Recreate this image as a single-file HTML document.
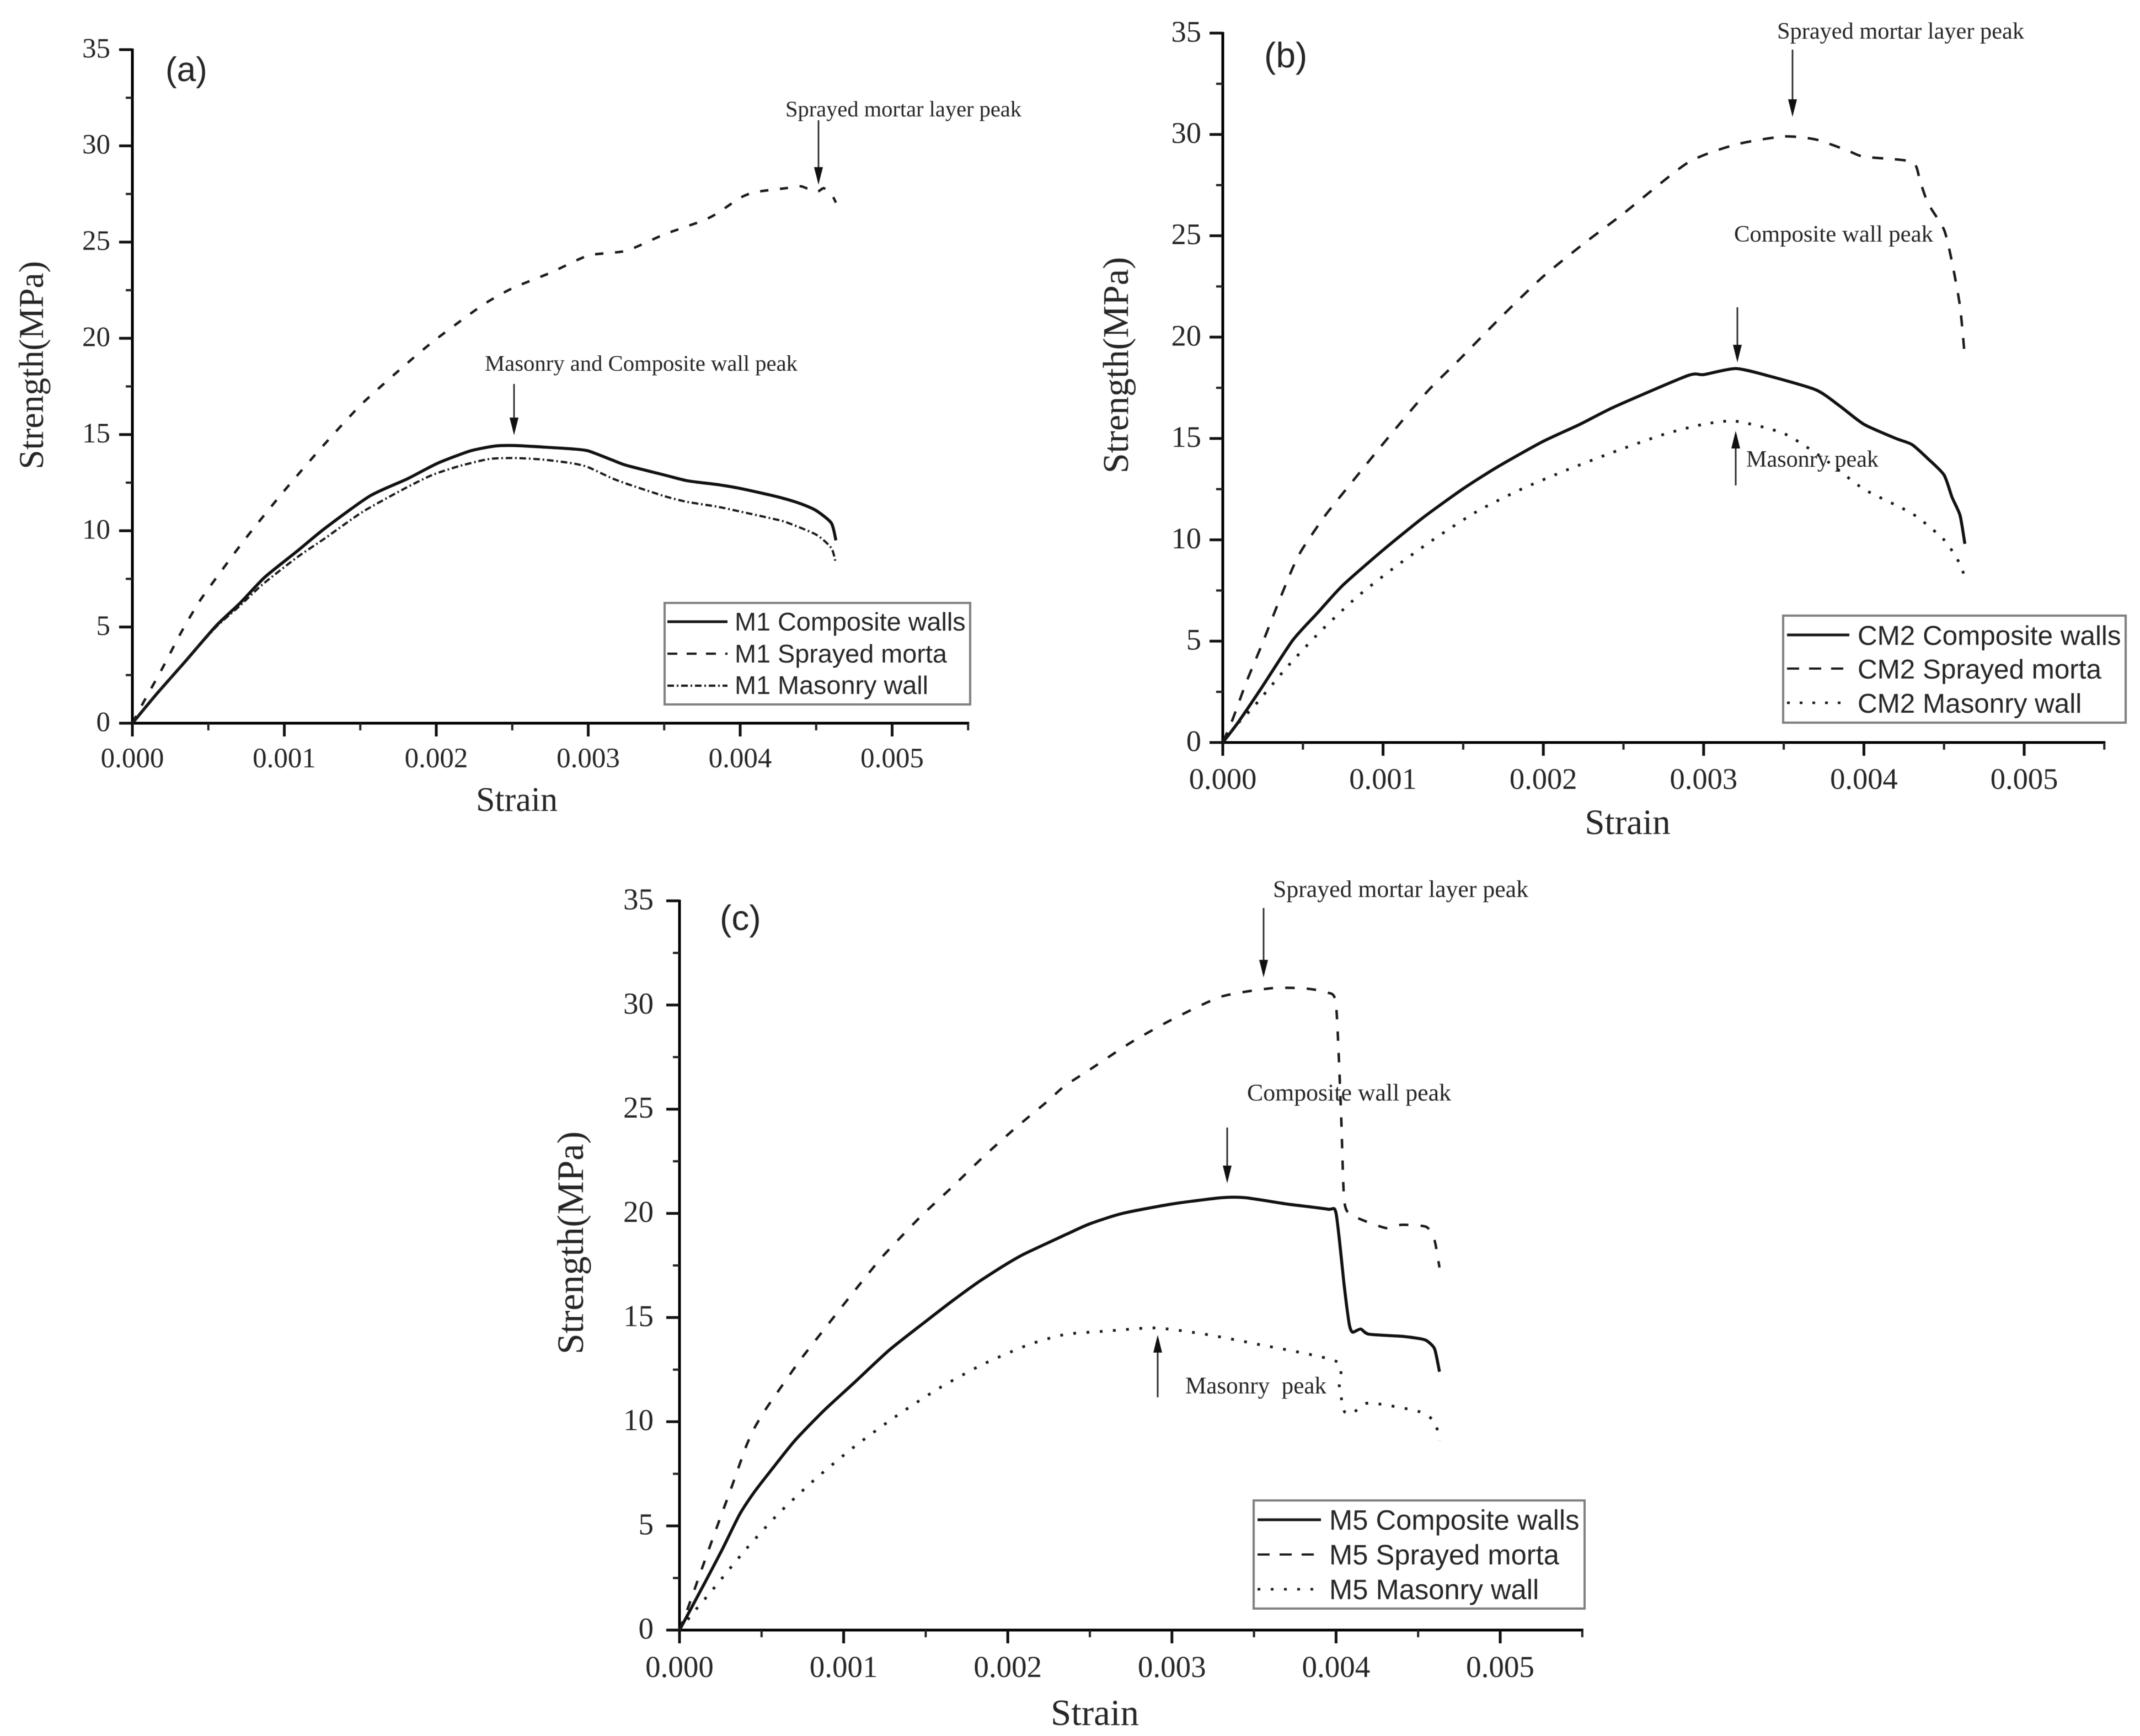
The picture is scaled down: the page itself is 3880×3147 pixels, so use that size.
<!DOCTYPE html>
<html lang="en">
<head>
<meta charset="utf-8">
<title>Strength versus strain curves for M1, CM2 and M5 walls</title>
<style>
  html, body { margin: 0; padding: 0; background: #fff; }
  svg { display: block; filter: blur(0.9px); }
  text { fill: #262626; }
  .serif { font-family: "Liberation Serif", serif; }
  .sans { font-family: "Liberation Sans", sans-serif; }
  .legend-box { fill: #fff; stroke: #7f7f7f; stroke-width: 4; }
  .arrow { stroke: #333; stroke-width: 3; fill: none; }
  .head { fill: #111; stroke: none; }
</style>
</head>
<body>
<svg id="figure" xmlns="http://www.w3.org/2000/svg" width="3880" height="3147" viewBox="0 0 3880 3147">
  <rect width="3880" height="3147" fill="#fff"/>
  <g id="plot-a"></g>
  <g id="plot-b"></g>
  <g id="plot-c"></g>

  <!-- Chart (a) furniture -->
  <g>
    <text class="sans" x="300" y="147" font-size="62">(a)</text>
    <text class="serif" x="1424" y="211" font-size="40" textLength="428" lengthAdjust="spacingAndGlyphs">Sprayed mortar layer peak</text>
    <text class="serif" x="879" y="672" font-size="40" textLength="567" lengthAdjust="spacingAndGlyphs">Masonry and Composite wall peak</text>
    <path class="arrow" d="M1484 218V305"/>
    <path class="head" d="M1476 303H1492L1484 335Z"/>
    <path class="arrow" d="M932 696V760"/>
    <path class="head" d="M924 757H940L932 789Z"/>
  </g>
  <g>
    <rect class="legend-box" x="1205" y="1093" width="554" height="184"/>
    <line x1="1210" x2="1319" y1="1127" y2="1127" stroke="#1a1a1a" stroke-width="5"/>
    <line x1="1210" x2="1319" y1="1185" y2="1185" stroke="#1a1a1a" stroke-width="4" stroke-dasharray="18 17"/>
    <line x1="1210" x2="1319" y1="1243" y2="1243" stroke="#1a1a1a" stroke-width="4" stroke-dasharray="12 5 3 5"/>
    <text class="sans" x="1332" y="1143" font-size="46.8">M1 Composite walls</text>
    <text class="sans" x="1332" y="1201" font-size="46.8">M1 Sprayed morta</text>
    <text class="sans" x="1332" y="1258" font-size="46.8">M1 Masonry wall</text>
  </g>

  <!-- Chart (b) furniture -->
  <g>
    <text class="sans" x="2292" y="122" font-size="64">(b)</text>
    <text class="serif" x="3222" y="70" font-size="42" textLength="448" lengthAdjust="spacingAndGlyphs">Sprayed mortar layer peak</text>
    <text class="serif" x="3144" y="438" font-size="42" textLength="361" lengthAdjust="spacingAndGlyphs">Composite wall peak</text>
    <text class="serif" x="3166" y="846" font-size="42" textLength="240" lengthAdjust="spacingAndGlyphs">Masonry peak</text>
    <path class="arrow" d="M3250 90V182"/>
    <path class="head" d="M3242 180H3258L3250 212Z"/>
    <path class="arrow" d="M3150 557V628"/>
    <path class="head" d="M3142 625H3158L3150 657Z"/>
    <path class="arrow" d="M3147 880V810"/>
    <path class="head" d="M3139 813H3155L3147 781Z"/>
  </g>
  <g>
    <rect class="legend-box" x="3233" y="1116" width="621" height="194"/>
    <line x1="3240" x2="3353" y1="1151" y2="1151" stroke="#1a1a1a" stroke-width="5"/>
    <line x1="3240" x2="3353" y1="1212" y2="1212" stroke="#1a1a1a" stroke-width="4" stroke-dasharray="22 18"/>
    <line x1="3240" x2="3353" y1="1274" y2="1274" stroke="#1a1a1a" stroke-width="4.5" stroke-dasharray="5 18"/>
    <text class="sans" x="3368" y="1169" font-size="49.4">CM2 Composite walls</text>
    <text class="sans" x="3368" y="1230" font-size="49.4">CM2 Sprayed morta</text>
    <text class="sans" x="3368" y="1292" font-size="49.4">CM2 Masonry wall</text>
  </g>

  <!-- Chart (c) furniture -->
  <g>
    <text class="sans" x="1305" y="1686" font-size="64">(c)</text>
    <text class="serif" x="2308" y="1626" font-size="43" textLength="463" lengthAdjust="spacingAndGlyphs">Sprayed mortar layer peak</text>
    <text class="serif" x="2261" y="1995" font-size="43" textLength="370" lengthAdjust="spacingAndGlyphs">Composite wall peak</text>
    <text class="serif" x="2149" y="2526" font-size="43" textLength="256" lengthAdjust="spacingAndGlyphs" xml:space="preserve">Masonry  peak</text>
    <path class="arrow" d="M2291 1646V1742"/>
    <path class="head" d="M2283 1740H2299L2291 1772Z"/>
    <path class="arrow" d="M2225 2044V2116"/>
    <path class="head" d="M2217 2113H2233L2225 2145Z"/>
    <path class="arrow" d="M2099 2533V2450"/>
    <path class="head" d="M2091 2452H2107L2099 2420Z"/>
  </g>
  <g>
    <rect class="legend-box" x="2273" y="2720" width="600" height="196"/>
    <line x1="2280" x2="2395" y1="2755" y2="2755" stroke="#1a1a1a" stroke-width="5"/>
    <line x1="2280" x2="2395" y1="2818" y2="2818" stroke="#1a1a1a" stroke-width="4" stroke-dasharray="22 18"/>
    <line x1="2280" x2="2395" y1="2881" y2="2881" stroke="#1a1a1a" stroke-width="4.5" stroke-dasharray="5 19"/>
    <text class="sans" x="2410" y="2773" font-size="50.7">M5 Composite walls</text>
    <text class="sans" x="2410" y="2836" font-size="50.7">M5 Sprayed morta</text>
    <text class="sans" x="2410" y="2899" font-size="50.7">M5 Masonry wall</text>
  </g>
</svg>

<script>
// Shared axis values
const yTickValues = [0, 5, 10, 15, 20, 25, 30, 35];
const yMinorValues = [2.5, 7.5, 12.5, 17.5, 22.5, 27.5, 32.5];
const xTickValues = [0, 0.001, 0.002, 0.003, 0.004, 0.005];
const xTickLabels = ['0.000', '0.001', '0.002', '0.003', '0.004', '0.005'];
const xMinorValues = [0.0005, 0.0015, 0.0025, 0.0035, 0.0045, 0.0055];

// Chart (a) M1
const aCompositeStrain = [0, 0.000164, 0.000345, 0.000551, 0.000707, 0.000872, 0.001086, 0.001266, 0.001562, 0.00181, 0.002007, 0.00222, 0.002385, 0.002516, 0.0027, 0.0029, 0.003, 0.00315, 0.00325, 0.0035, 0.00365, 0.00385, 0.004, 0.0042, 0.0043, 0.0044, 0.0045, 0.0046, 0.00463];
const aCompositeStress = [0, 1.56, 3.18, 5.06, 6.23, 7.59, 8.95, 10.12, 11.8, 12.7, 13.5, 14.14, 14.4, 14.43, 14.35, 14.25, 14.15, 13.7, 13.4, 12.9, 12.6, 12.4, 12.2, 11.85, 11.65, 11.4, 11.05, 10.4, 9.5];
const aSprayedStrain = [0, 0.000074, 0.000197, 0.000316, 0.000444, 0.000592, 0.000748, 0.000987, 0.001242, 0.001505, 0.001793, 0.00199, 0.0023, 0.0025, 0.00275, 0.003, 0.00325, 0.0035, 0.00375, 0.00385, 0.004, 0.0041, 0.0043, 0.0044, 0.0045, 0.00455, 0.0046, 0.00463];
const aSprayedStress = [0, 1.1, 2.85, 4.65, 6.36, 7.98, 9.63, 11.96, 14.3, 16.55, 18.6, 19.9, 21.7, 22.6, 23.4, 24.3, 24.55, 25.4, 26.1, 26.5, 27.3, 27.6, 27.8, 27.9, 27.6, 27.8, 27.5, 27.05];
const aMasonryStrain = [0, 0.000164, 0.000345, 0.000551, 0.000707, 0.000855, 0.001086, 0.001266, 0.001513, 0.001793, 0.001974, 0.002155, 0.00235, 0.002516, 0.0027, 0.0029, 0.003, 0.00315, 0.00325, 0.0035, 0.00365, 0.00385, 0.004, 0.0042, 0.0043, 0.0045, 0.0046, 0.00463];
const aMasonryStress = [0, 1.56, 3.18, 5, 6.1, 7.2, 8.63, 9.6, 10.97, 12.2, 12.9, 13.37, 13.73, 13.78, 13.7, 13.5, 13.3, 12.75, 12.45, 11.8, 11.5, 11.25, 11, 10.65, 10.45, 9.8, 9.1, 8.3];

// Chart (b) CM2
const bCompositeStrain = [0, 0.0000935, 0.000242, 0.000436, 0.000592, 0.000748, 0.000998, 0.001247, 0.001496, 0.001715, 0.001995, 0.002229, 0.002444, 0.0029, 0.003, 0.0032, 0.0034, 0.0037, 0.00385, 0.004, 0.0042, 0.0043, 0.0044, 0.0045, 0.00455, 0.0046, 0.00463];
const bCompositeStress = [0, 0.97, 2.7, 5.04, 6.4, 7.75, 9.48, 11.08, 12.5, 13.6, 14.84, 15.7, 16.56, 18.1, 18.15, 18.45, 18.1, 17.4, 16.6, 15.7, 15, 14.7, 14, 13.2, 12.1, 11.2, 9.8];
const bSprayedStrain = [0, 0.000059, 0.000148, 0.000245, 0.00034, 0.000436, 0.000496, 0.000639, 0.000795, 0.000959, 0.001122, 0.001289, 0.001473, 0.00175, 0.002, 0.00225, 0.0025, 0.0029, 0.0032, 0.0035, 0.0037, 0.0039, 0.004, 0.0043, 0.00435, 0.0044, 0.0045, 0.00455, 0.0046, 0.00463];
const bSprayedStress = [0, 1.09, 3, 4.85, 6.76, 8.61, 9.54, 11.2, 12.74, 14.34, 15.9, 17.43, 18.87, 21.1, 23, 24.6, 26.1, 28.6, 29.5, 29.9, 29.75, 29.2, 28.9, 28.65, 27.7, 26.6, 25.3, 23.7, 21.5, 19];
const bMasonryStrain = [0, 0.000098, 0.000203, 0.000402, 0.000608, 0.000834, 0.001075, 0.001328, 0.00159, 0.001863, 0.002148, 0.002431, 0.00275, 0.003, 0.0032, 0.0035, 0.00375, 0.004, 0.0043, 0.0045, 0.0046, 0.00463];
const bMasonryStress = [0, 0.97, 1.86, 3.73, 5.47, 7.16, 8.66, 10.09, 11.42, 12.5, 13.45, 14.31, 15.2, 15.7, 15.85, 15.25, 14, 12.5, 11.3, 10, 8.8, 8.1];

// Chart (c) M5
const cCompositeStrain = [0, 0.000152, 0.000259, 0.000365, 0.000449, 0.000548, 0.0007, 0.000875, 0.001065, 0.001278, 0.001491, 0.001659, 0.00182, 0.001978, 0.0021, 0.002359, 0.0025, 0.0027, 0.003, 0.0033, 0.00345, 0.0037, 0.00395, 0.004, 0.00405, 0.00408, 0.0041, 0.00415, 0.0042, 0.0044, 0.0045, 0.00455, 0.0046, 0.00463];
const cCompositeStress = [0, 2.24, 3.85, 5.53, 6.55, 7.57, 9.07, 10.5, 11.88, 13.44, 14.76, 15.78, 16.7, 17.5, 18.05, 19, 19.5, 20, 20.45, 20.75, 20.75, 20.45, 20.2, 20, 16.5, 14.7, 14.3, 14.45, 14.2, 14.1, 14, 13.9, 13.5, 12.4];
const cSprayedStrain = [0, 0.000053, 0.000142, 0.000228, 0.000317, 0.000403, 0.000454, 0.000517, 0.00059, 0.000741, 0.000898, 0.001055, 0.001217, 0.001301, 0.001476, 0.001666, 0.001849, 0.002047, 0.002245, 0.002344, 0.0025, 0.00275, 0.003, 0.0033, 0.0036, 0.0038, 0.00395, 0.004, 0.00403, 0.00405, 0.0041, 0.0043, 0.0044, 0.00455, 0.0046, 0.00463];
const cSprayedStress = [0, 1.1, 3.07, 4.95, 6.85, 8.76, 9.66, 10.5, 11.34, 13.02, 14.6, 16.17, 17.75, 18.47, 19.9, 21.3, 22.7, 24.1, 25.4, 26.1, 26.9, 28.2, 29.3, 30.4, 30.8, 30.8, 30.6, 30, 24.9, 20.6, 19.9, 19.3, 19.45, 19.35, 18.7, 17.4];
const cMasonryStrain = [0, 0.000099, 0.000198, 0.000396, 0.000598, 0.000826, 0.001065, 0.001313, 0.001575, 0.001844, 0.002128, 0.002351, 0.0026, 0.0029, 0.0032, 0.0035, 0.004, 0.00402, 0.00405, 0.0041, 0.0042, 0.0045, 0.0046, 0.00463];
const cMasonryStress = [0, 0.98, 1.9, 3.8, 5.55, 7.24, 8.8, 10.23, 11.58, 12.74, 13.7, 14.19, 14.35, 14.5, 14.2, 13.75, 12.9, 11.7, 10.5, 10.4, 10.9, 10.5, 10, 9.1];

const SVG_NS = 'http://www.w3.org/2000/svg';

function scaleLinear(d0, d1, r0, r1) {
  return function (v) { return r0 + (v - d0) * (r1 - r0) / (d1 - d0); };
}

function make(tag, attrs, parent) {
  const node = document.createElementNS(SVG_NS, tag);
  for (const key in attrs) node.setAttribute(key, attrs[key]);
  parent.appendChild(node);
  return node;
}

function smoothPath(xs, ys, sx, sy) {
  const pts = xs.map(function (v, i) { return [sx(v), sy(ys[i])]; });
  let d = 'M' + pts[0][0].toFixed(1) + ' ' + pts[0][1].toFixed(1);
  for (let i = 0; i < pts.length - 1; i++) {
    const p0 = pts[Math.max(i - 1, 0)], p1 = pts[i], p2 = pts[i + 1], p3 = pts[Math.min(i + 2, pts.length - 1)];
    const k = 0.11;
    d += 'C' + (p1[0] + (p2[0] - p0[0]) * k).toFixed(1) + ' ' + (p1[1] + (p2[1] - p0[1]) * k).toFixed(1) +
         ' ' + (p2[0] - (p3[0] - p1[0]) * k).toFixed(1) + ' ' + (p2[1] - (p3[1] - p1[1]) * k).toFixed(1) +
         ' ' + p2[0].toFixed(1) + ' ' + p2[1].toFixed(1);
  }
  return d;
}

function drawAxes(cfg) {
  const g = document.getElementById(cfg.id);
  const sx = scaleLinear(0, 0.005, cfg.x0, cfg.x5);
  const sy = scaleLinear(0, 35, cfg.y0, cfg.y35);
  const axisEnd = sx(0.0055);

  const xAxis = make('line', { x1: cfg.x0 - 24, x2: axisEnd + 2, y1: cfg.y0, y2: cfg.y0, stroke: '#000', 'stroke-width': 5 }, g);
  
  
  const yAxis = make('line', { x1: cfg.x0, x2: cfg.x0, y1: cfg.y35 - 2, y2: cfg.y0 + 24, stroke: '#000', 'stroke-width': 5 }, g);
  
  

  yTickValues.forEach(function (v) {
    const tick = make('line', { x1: cfg.x0 - 24, x2: cfg.x0, y1: sy(v), y2: sy(v), stroke: '#111', 'stroke-width': 5 }, g);
    
    
    const label = make('text', { x: cfg.yLabelRight, y: sy(v) + cfg.tickFont * 0.28, 'text-anchor': 'end', 'font-size': cfg.tickFont, class: 'serif' }, g);
    
    
    label.textContent = String(v);
  });
  yMinorValues.forEach(function (v) {
    const tick = make('line', { x1: cfg.x0 - 12, x2: cfg.x0, y1: sy(v), y2: sy(v), stroke: '#222', 'stroke-width': 4 }, g);
    
    
  });
  xTickValues.forEach(function (v, i) {
    const tick = make('line', { x1: sx(v), x2: sx(v), y1: cfg.y0, y2: cfg.y0 + 24, stroke: '#111', 'stroke-width': 5 }, g);
    
    
    const label = make('text', { x: sx(v), y: cfg.xLabelBase, 'text-anchor': 'middle', 'font-size': cfg.tickFont, class: 'serif' }, g);
    
    
    label.textContent = xTickLabels[i];
  });
  xMinorValues.forEach(function (v) {
    const tick = make('line', { x1: sx(v), x2: sx(v), y1: cfg.y0, y2: cfg.y0 + 13, stroke: '#222', 'stroke-width': 4 }, g);
    
    
  });

  const xTitle = make('text', { x: cfg.xTitleX, y: cfg.xTitleY, 'text-anchor': 'middle', 'font-size': cfg.titleFont, class: 'serif' }, g);
  
  
  xTitle.textContent = 'Strain';

  const yTitle = make('text', { x: 0, y: 0, 'text-anchor': 'middle', 'font-size': cfg.yTitleFont, class: 'serif', transform: 'translate(' + cfg.yTitleX + ' ' + cfg.yTitleY + ') rotate(-90)' }, g);
  
  
  yTitle.textContent = 'Strength(MPa)';

  const composite = make('path', { d: smoothPath(cfg.composite[0], cfg.composite[1], sx, sy), fill: 'none', stroke: '#111', 'stroke-width': 5.5, 'stroke-linejoin': 'round' }, g);
  
  
  const sprayed = make('path', { d: smoothPath(cfg.sprayed[0], cfg.sprayed[1], sx, sy), fill: 'none', stroke: '#1a1a1a', 'stroke-width': 4.5, 'stroke-dasharray': cfg.sprayedDash }, g);
  
  
  const masonry = make('path', { d: smoothPath(cfg.masonry[0], cfg.masonry[1], sx, sy), fill: 'none', stroke: '#1a1a1a', 'stroke-width': cfg.masonryWidth, 'stroke-dasharray': cfg.masonryDash }, g);
  
  
}

drawAxes({
  id: 'plot-a', x0: 240, x5: 1617.5, y0: 1311, y35: 90,
  tickFont: 51, yLabelRight: 200, xLabelBase: 1391,
  titleFont: 62, xTitleX: 937, xTitleY: 1470,
  yTitleFont: 63.5, yTitleX: 78, yTitleY: 662,
  composite: [aCompositeStrain, aCompositeStress],
  sprayed: [aSprayedStrain, aSprayedStress],
  sprayedDash: '15 21',
  masonry: [aMasonryStrain, aMasonryStress],
  masonryWidth: 4, masonryDash: '12 5 3 5'
});
drawAxes({
  id: 'plot-b', x0: 2217, x5: 3670, y0: 1346, y35: 60,
  tickFont: 54.5, yLabelRight: 2178, xLabelBase: 1430,
  titleFont: 65, xTitleX: 2951, xTitleY: 1512,
  yTitleFont: 66, yTitleX: 2045, yTitleY: 662,
  composite: [bCompositeStrain, bCompositeStress],
  sprayed: [bSprayedStrain, bSprayedStress],
  sprayedDash: '20 21',
  masonry: [bMasonryStrain, bMasonryStress],
  masonryWidth: 5, masonryDash: '5 18'
});
drawAxes({
  id: 'plot-c', x0: 1232, x5: 2720, y0: 2955, y35: 1633,
  tickFont: 55, yLabelRight: 1185, xLabelBase: 3040,
  titleFont: 67, xTitleX: 1985, xTitleY: 3127,
  yTitleFont: 68, yTitleX: 1057, yTitleY: 2253,
  composite: [cCompositeStrain, cCompositeStress],
  sprayed: [cSprayedStrain, cSprayedStress],
  sprayedDash: '17 22',
  masonry: [cMasonryStrain, cMasonryStress],
  masonryWidth: 5, masonryDash: '5 19'
});
</script>
</body>
</html>
